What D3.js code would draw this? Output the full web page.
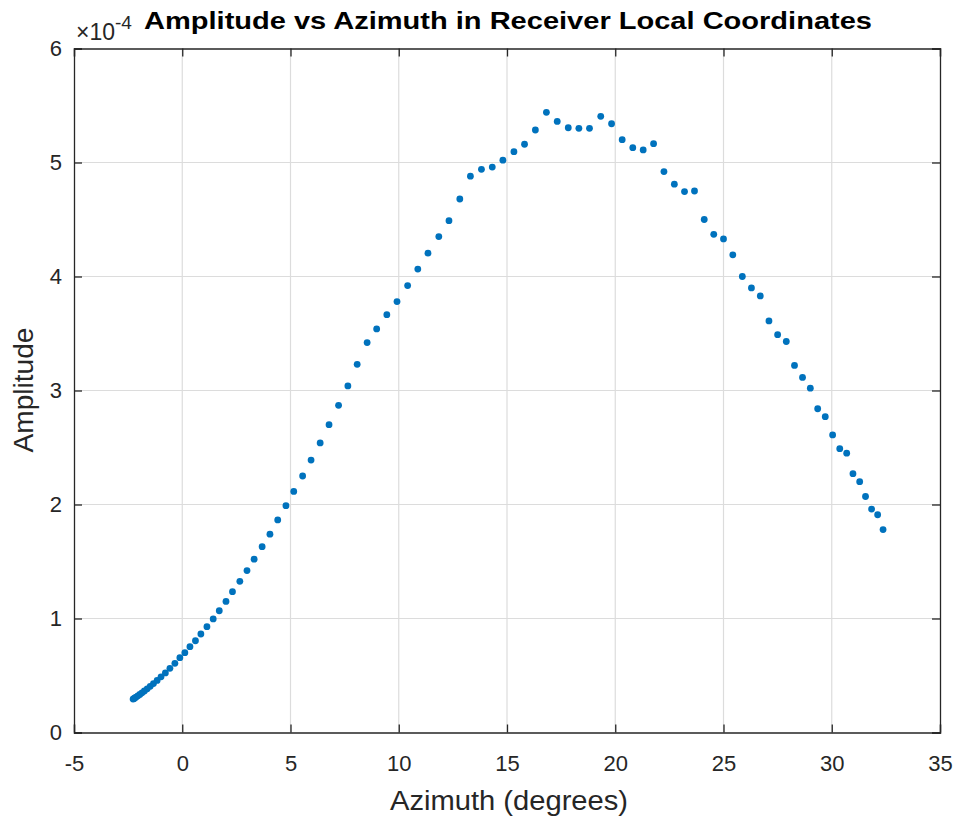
<!DOCTYPE html>
<html>
<head>
<meta charset="utf-8">
<script src="https://cdn.jsdelivr.net/npm/d3@7"></script>
<style>
  html, body { margin: 0; padding: 0; background: #fff; }
  svg text { font-family: "Liberation Sans", Arial, Helvetica, sans-serif; fill: #262626; }
</style>
</head>
<body>
<svg id="chart" width="962" height="823"></svg>
<script>
// ---- data (amplitude in units of 1e-4) ----
const azimuth = [-2.27,-2.24,-2.19,-2.13,-2.05,-1.96,-1.86,-1.75,-1.62,-1.48,-1.33,-1.16,-0.98,-0.78,-0.57,-0.34,-0.11,
  0.12,0.355,0.61,0.86,1.14,1.43,1.71,2.02,2.32,2.66,
  2.99,3.32,3.69,4.05,4.41,4.79,5.15,5.56,5.95,6.37,
  6.78,7.22,7.65,8.08,8.54,8.98,9.45,9.92,10.41,10.88,
  11.35,11.85,12.32,12.82,13.31,13.82,14.32,14.81,15.32,15.81,
  16.31,16.82,17.32,17.83,18.32,18.81,19.33,19.83,20.32,20.81,
  21.29,21.77,22.25,22.73,23.20,23.66,24.11,24.55,25.00,25.43,
  25.87,26.29,26.70,27.10,27.50,27.90,28.28,28.65,29.01,29.35,
  29.70,30.04,30.37,30.69,30.98,31.29,31.56,31.84,32.12,32.37];
const amplitude = [0.293,0.297,0.303,0.311,0.322,0.334,0.348,0.364,0.383,0.405,0.429,0.457,0.488,0.523,0.563,0.607,0.656,
  0.70,0.753,0.805,0.864,0.928,0.996,1.068,1.15,1.235,1.326,
  1.42,1.52,1.63,1.74,1.865,1.99,2.115,2.25,2.39,2.54,
  2.70,2.87,3.04,3.23,3.42,3.54,3.665,3.78,3.92,4.065,
  4.205,4.35,4.49,4.68,4.88,4.94,4.96,5.02,5.095,5.16,
  5.285,5.44,5.36,5.305,5.30,5.30,5.405,5.34,5.20,5.13,
  5.11,5.165,4.92,4.81,4.745,4.75,4.50,4.37,4.33,4.19,
  4.00,3.90,3.83,3.61,3.49,3.43,3.22,3.115,3.02,2.84,
  2.77,2.61,2.49,2.45,2.27,2.20,2.07,1.96,1.91,1.78];
const xTicks = [-5,0,5,10,15,20,25,30,35];
const yTicks = [0,1,2,3,4,5,6];
const titleText = "Amplitude vs Azimuth in Receiver Local Coordinates";
const xLabelText = "Azimuth (degrees)";
const yLabelText = "Amplitude";
const exponentBase = "\u00d710";
const exponentPower = "-4";

// ---- layout ----
const L = 74, R = 940, T = 48.5, B = 732.5;
const svg = d3.select("#chart");
const x = d3.scaleLinear().domain([-5, 35]).range([L, R]);
const y = d3.scaleLinear().domain([0, 6]).range([B, T]);
const axisColor = "#262626";

// grid
const g = svg.append("g");
g.selectAll("line.gx").data(xTicks.slice(1, -1)).join("line")
  .attr("x1", d => x(d)).attr("x2", d => x(d)).attr("y1", T).attr("y2", B)
  .attr("stroke", "#dcdcdc").attr("stroke-width", 1.2);
g.selectAll("line.gy").data(yTicks.slice(1, -1)).join("line")
  .attr("x1", L).attr("x2", R).attr("y1", d => y(d)).attr("y2", d => y(d))
  .attr("stroke", "#dcdcdc").attr("stroke-width", 1.2);

// points
svg.append("g").selectAll("circle").data(azimuth.map((a, i) => [a, amplitude[i]])).join("circle")
  .attr("cx", d => x(d[0])).attr("cy", d => y(d[1])).attr("r", 3.4)
  .attr("fill", "#0072BD");

// axes (ticks inward, box)
const tickLen = 8;
const fmt = d => String(d);
const axB = d3.axisBottom(x).tickValues(xTicks).tickSize(-tickLen).tickPadding(23).tickFormat(fmt);
const axT = d3.axisTop(x).tickValues(xTicks).tickSize(-tickLen).tickFormat("");
const axL = d3.axisLeft(y).tickValues(yTicks).tickSize(-tickLen).tickPadding(12).tickFormat(fmt);
const axR = d3.axisRight(y).tickValues(yTicks).tickSize(-tickLen).tickFormat("");

function style(sel) {
  sel.selectAll("path").attr("stroke", axisColor).attr("stroke-width", 1.3);
  sel.selectAll("line").attr("stroke", axisColor).attr("stroke-width", 1.3);
  sel.selectAll("text").attr("fill", "#333").style("font-size", "22px")
     .style("font-family", "'Liberation Sans', Arial, sans-serif");
}
svg.append("g").attr("transform", `translate(0,${B})`).call(axB).call(style);
svg.append("g").attr("transform", `translate(0,${T})`).call(axT).call(style);
svg.append("g").attr("transform", `translate(${L},0)`).call(axL).call(style);
svg.append("g").attr("transform", `translate(${R},0)`).call(axR).call(style);

// exponent
const ex = svg.append("text").attr("x", 76).attr("y", 40).style("font-size", "23px").attr("fill", "#444");
ex.append("tspan").text(exponentBase);
ex.append("tspan").attr("dy", -11).style("font-size", "19px").text(exponentPower);

// title
svg.append("text").attr("x", 508).attr("y", 29).attr("text-anchor", "middle")
  .style("font-size", "23px").style("font-weight", "bold").style("fill", "#000")
  .attr("textLength", 728).attr("lengthAdjust", "spacingAndGlyphs")
  .text(titleText);

// x label
svg.append("text").attr("x", 509).attr("y", 810).attr("text-anchor", "middle")
  .style("font-size", "27px").attr("textLength", 238).attr("lengthAdjust", "spacingAndGlyphs")
  .text(xLabelText);

// y label
svg.append("text").attr("transform", "translate(33,390) rotate(-90)").attr("text-anchor", "middle")
  .style("font-size", "27px").attr("textLength", 125).attr("lengthAdjust", "spacingAndGlyphs")
  .text(yLabelText);
</script>
</body>
</html>
